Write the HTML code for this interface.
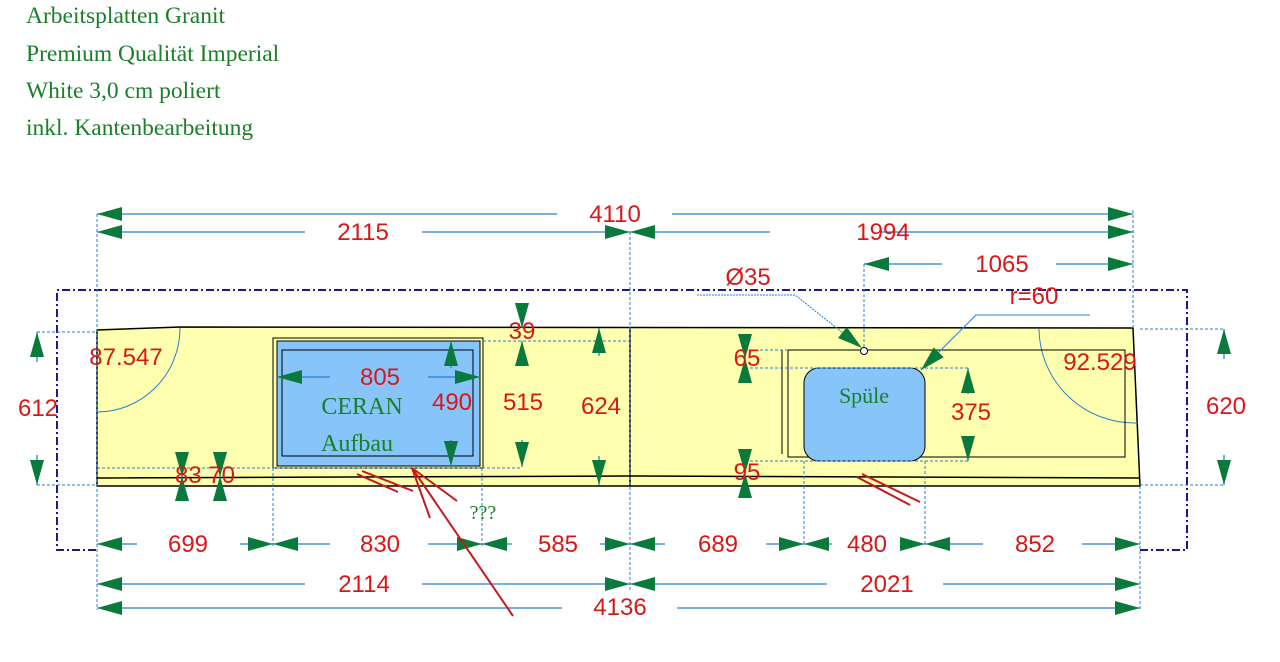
<!DOCTYPE html>
<html><head><meta charset="utf-8"><style>
html,body{margin:0;padding:0;background:#fff;width:1280px;height:662px;overflow:hidden}
svg{display:block}
.h{font-family:"Liberation Serif",serif;font-size:23.5px;fill:#1a7f2a}
.r{font-family:"Liberation Sans",sans-serif;font-size:24px;fill:#d81818;text-anchor:middle}
.g{font-family:"Liberation Serif",serif;fill:#1a7f2a;text-anchor:middle}
.d{stroke:#2a7fcf;stroke-width:1.3;fill:none}
.x{stroke:#2a7fcf;stroke-width:1;stroke-dasharray:3,2;fill:none}
.k{stroke:#000;stroke-width:1.5;fill:none}
.rd{stroke:#c81818;stroke-width:2;fill:none}
</style></head><body>
<svg width="1280" height="662" viewBox="0 0 1280 662" xmlns="http://www.w3.org/2000/svg">
<defs>
<marker id="a" markerUnits="userSpaceOnUse" markerWidth="28" markerHeight="18" refX="26" refY="8" orient="auto-start-reverse"><path d="M1,1 L26,8 L1,15 z" fill="#0a7a3c"/></marker>
</defs>
<text class="h" x="26" y="23">Arbeitsplatten Granit</text>
<text class="h" x="26" y="61">Premium Qualität Imperial</text>
<text class="h" x="26" y="98">White 3,0 cm poliert</text>
<text class="h" x="26" y="135">inkl. Kantenbearbeitung</text>

<path d="M96,550 L57,550 L57,290 L1187,290 L1187,550 L1140,550" stroke="#1a1a8a" stroke-width="2" stroke-dasharray="8,3,2,3" fill="none"/>

<path d="M97,328 L630,328 L630,486 L97,486 Z" fill="#ffffb0"/>
<path d="M630,328 L1133,328 L1140,486 L630,486 Z" fill="#ffffb0"/>
<path class="k" d="M97,330 L180,327 L1133,328 L1140,486 L97,486 Z"/>
<path class="k" d="M97,478 L630,476 L1140,478"/>
<line class="k" x1="630" y1="328" x2="630" y2="486"/>
<path d="M180,328 A83,84 0 0 1 97,412" stroke="#2a7fcf" stroke-width="1" fill="none"/>
<path d="M1039,329 A96,95 0 0 0 1138,423" stroke="#2a7fcf" stroke-width="1" fill="none"/>

<rect x="273" y="338" width="210" height="130" fill="none" stroke="#000" stroke-width="1"/>
<rect x="277" y="341" width="203" height="125" fill="#86c4fa" stroke="#000" stroke-width="1"/>
<rect x="282" y="350" width="191" height="106" fill="none" stroke="#000" stroke-width="1"/>
<text class="g" x="362" y="414" font-size="24">CERAN</text>
<text class="g" x="357" y="451" font-size="24">Aufbau</text>

<path class="k" style="stroke-width:1" d="M788,350 L1125,350 L1125,457 L788,457 Z"/>
<line class="k" style="stroke-width:1" x1="782" y1="350" x2="782" y2="454"/>
<rect x="804" y="368" width="121" height="93" rx="15" fill="#86c4fa" stroke="#000" stroke-width="1"/>
<text class="g" x="864" y="403" font-size="22">Spüle</text>
<circle cx="864" cy="351" r="3.5" fill="#fff" stroke="#000" stroke-width="1"/>

<line class="x" x1="97" y1="214" x2="97" y2="610"/>
<line class="x" x1="630" y1="232" x2="630" y2="590"/>
<line class="x" x1="1133" y1="210" x2="1133" y2="328"/>
<line class="x" x1="1140" y1="486" x2="1140" y2="610"/>
<line class="x" x1="273" y1="468" x2="273" y2="546"/>
<line class="x" x1="482" y1="468" x2="482" y2="546"/>
<line class="x" x1="804" y1="461" x2="804" y2="546"/>
<line class="x" x1="925" y1="461" x2="925" y2="546"/>
<line class="x" x1="864" y1="264" x2="864" y2="348"/>
<line class="x" x1="37" y1="332" x2="97" y2="332"/>
<line class="x" x1="37" y1="485" x2="97" y2="485"/>
<line class="x" x1="1140" y1="329" x2="1224" y2="329"/>
<line class="x" x1="1140" y1="485" x2="1224" y2="485"/>
<line class="x" x1="97" y1="468" x2="522" y2="468"/>
<line class="x" x1="483" y1="341" x2="630" y2="341"/>
<line class="x" x1="745" y1="350" x2="788" y2="350"/>
<line class="x" x1="745" y1="368" x2="968" y2="368"/>
<line class="x" x1="745" y1="461" x2="968" y2="461"/>

<g class="d">
<line x1="557" y1="214" x2="97" y2="214" marker-end="url(#a)"/><line x1="672" y1="214" x2="1133" y2="214" marker-end="url(#a)"/>
<line x1="305" y1="232" x2="97" y2="232" marker-end="url(#a)"/><line x1="422" y1="232" x2="630" y2="232" marker-end="url(#a)"/>
<line x1="770" y1="232" x2="630" y2="232" marker-end="url(#a)"/><line x1="880" y1="232" x2="1133" y2="232" marker-end="url(#a)"/>
<line x1="942" y1="264" x2="864" y2="264" marker-end="url(#a)"/><line x1="1056" y1="264" x2="1133" y2="264" marker-end="url(#a)"/>
<line x1="137" y1="544" x2="97" y2="544" marker-end="url(#a)"/><line x1="240" y1="544" x2="273" y2="544" marker-end="url(#a)"/>
<line x1="330" y1="544" x2="273" y2="544" marker-end="url(#a)"/><line x1="428" y1="544" x2="482" y2="544" marker-end="url(#a)"/>
<line x1="512" y1="544" x2="482" y2="544" marker-end="url(#a)"/><line x1="600" y1="544" x2="630" y2="544" marker-end="url(#a)"/>
<line x1="665" y1="544" x2="630" y2="544" marker-end="url(#a)"/><line x1="766" y1="544" x2="804" y2="544" marker-end="url(#a)"/>
<line x1="832" y1="544" x2="804" y2="544" marker-end="url(#a)"/><line x1="900" y1="544" x2="925" y2="544" marker-end="url(#a)"/>
<line x1="983" y1="544" x2="925" y2="544" marker-end="url(#a)"/><line x1="1082" y1="544" x2="1140" y2="544" marker-end="url(#a)"/>
<line x1="305" y1="584" x2="97" y2="584" marker-end="url(#a)"/><line x1="422" y1="584" x2="630" y2="584" marker-end="url(#a)"/>
<line x1="827" y1="584" x2="630" y2="584" marker-end="url(#a)"/><line x1="943" y1="584" x2="1140" y2="584" marker-end="url(#a)"/>
<line x1="562" y1="608" x2="97" y2="608" marker-end="url(#a)"/><line x1="677" y1="608" x2="1140" y2="608" marker-end="url(#a)"/>
<line x1="330" y1="377" x2="277" y2="377" marker-end="url(#a)"/><line x1="428" y1="377" x2="480" y2="377" marker-end="url(#a)"/>
<line x1="37" y1="362" x2="37" y2="332" marker-end="url(#a)"/><line x1="37" y1="455" x2="37" y2="485" marker-end="url(#a)"/>
<line x1="1224" y1="359" x2="1224" y2="329" marker-end="url(#a)"/><line x1="1224" y1="455" x2="1224" y2="485" marker-end="url(#a)"/>
<line x1="599" y1="356" x2="599" y2="328" marker-end="url(#a)"/><line x1="599" y1="456" x2="599" y2="485" marker-end="url(#a)"/>
<line x1="522" y1="305" x2="522" y2="328" marker-end="url(#a)"/><line x1="522" y1="364" x2="522" y2="341" marker-end="url(#a)"/>
<line x1="522" y1="440" x2="522" y2="467" marker-end="url(#a)"/>
<line x1="451" y1="368" x2="451" y2="341" marker-end="url(#a)"/><line x1="451" y1="440" x2="451" y2="466" marker-end="url(#a)"/>
<line x1="968" y1="394" x2="968" y2="368" marker-end="url(#a)"/><line x1="968" y1="436" x2="968" y2="461" marker-end="url(#a)"/>
<line x1="182" y1="460" x2="182" y2="477" marker-end="url(#a)"/><line x1="182" y1="492" x2="182" y2="476" marker-end="url(#a)"/>
<line x1="220" y1="460" x2="220" y2="477" marker-end="url(#a)"/><line x1="220" y1="492" x2="220" y2="476" marker-end="url(#a)"/>
<line x1="745" y1="342" x2="745" y2="359" marker-end="url(#a)"/><line x1="745" y1="376" x2="745" y2="358" marker-end="url(#a)"/>
<line x1="745" y1="460" x2="745" y2="474" marker-end="url(#a)"/><line x1="745" y1="492" x2="745" y2="473" marker-end="url(#a)"/>
<polyline points="697,295 795,295 862,348" marker-end="url(#a)" style="stroke-width:1;stroke-dasharray:2,1"/>
<polyline points="1090,315 976,315 921,370" marker-end="url(#a)" style="stroke-width:1"/>
</g>

<g class="rd">
<line x1="513" y1="616" x2="412" y2="468"/>
<line x1="412" y1="468" x2="430" y2="518"/>
<line x1="412" y1="468" x2="457" y2="501"/>
<line x1="362" y1="471" x2="413" y2="491"/>
<line x1="357" y1="474" x2="398" y2="492"/>
<line x1="862" y1="474" x2="920" y2="502"/>
<line x1="857" y1="477" x2="910" y2="505"/>
</g>
<text class="g" x="483" y="519" font-size="20">???</text>

<text class="r" x="615" y="222">4110</text>
<text class="r" x="363" y="240">2115</text>
<text class="r" x="883" y="240">1994</text>
<text class="r" x="1002" y="272">1065</text>
<text class="r" x="748" y="285">Ø35</text>
<text class="r" x="1034" y="304">r=60</text>
<text class="r" x="522" y="339">39</text>
<text class="r" x="126" y="365">87.547</text>
<text class="r" x="1100" y="370">92.529</text>
<text class="r" x="747" y="366">65</text>
<text class="r" x="380" y="385">805</text>
<text class="r" x="452" y="410">490</text>
<text class="r" x="523" y="410">515</text>
<text class="r" x="601" y="414">624</text>
<text class="r" x="38" y="416">612</text>
<text class="r" x="1226" y="414">620</text>
<text class="r" x="971" y="420">375</text>
<text class="r" x="205" y="483">83 70</text>
<text class="r" x="747" y="480">95</text>
<text class="r" x="188" y="552">699</text>
<text class="r" x="380" y="552">830</text>
<text class="r" x="558" y="552">585</text>
<text class="r" x="718" y="552">689</text>
<text class="r" x="867" y="552">480</text>
<text class="r" x="1035" y="552">852</text>
<text class="r" x="364" y="592">2114</text>
<text class="r" x="887" y="592">2021</text>
<text class="r" x="620" y="615">4136</text>
</svg>
</body></html>
